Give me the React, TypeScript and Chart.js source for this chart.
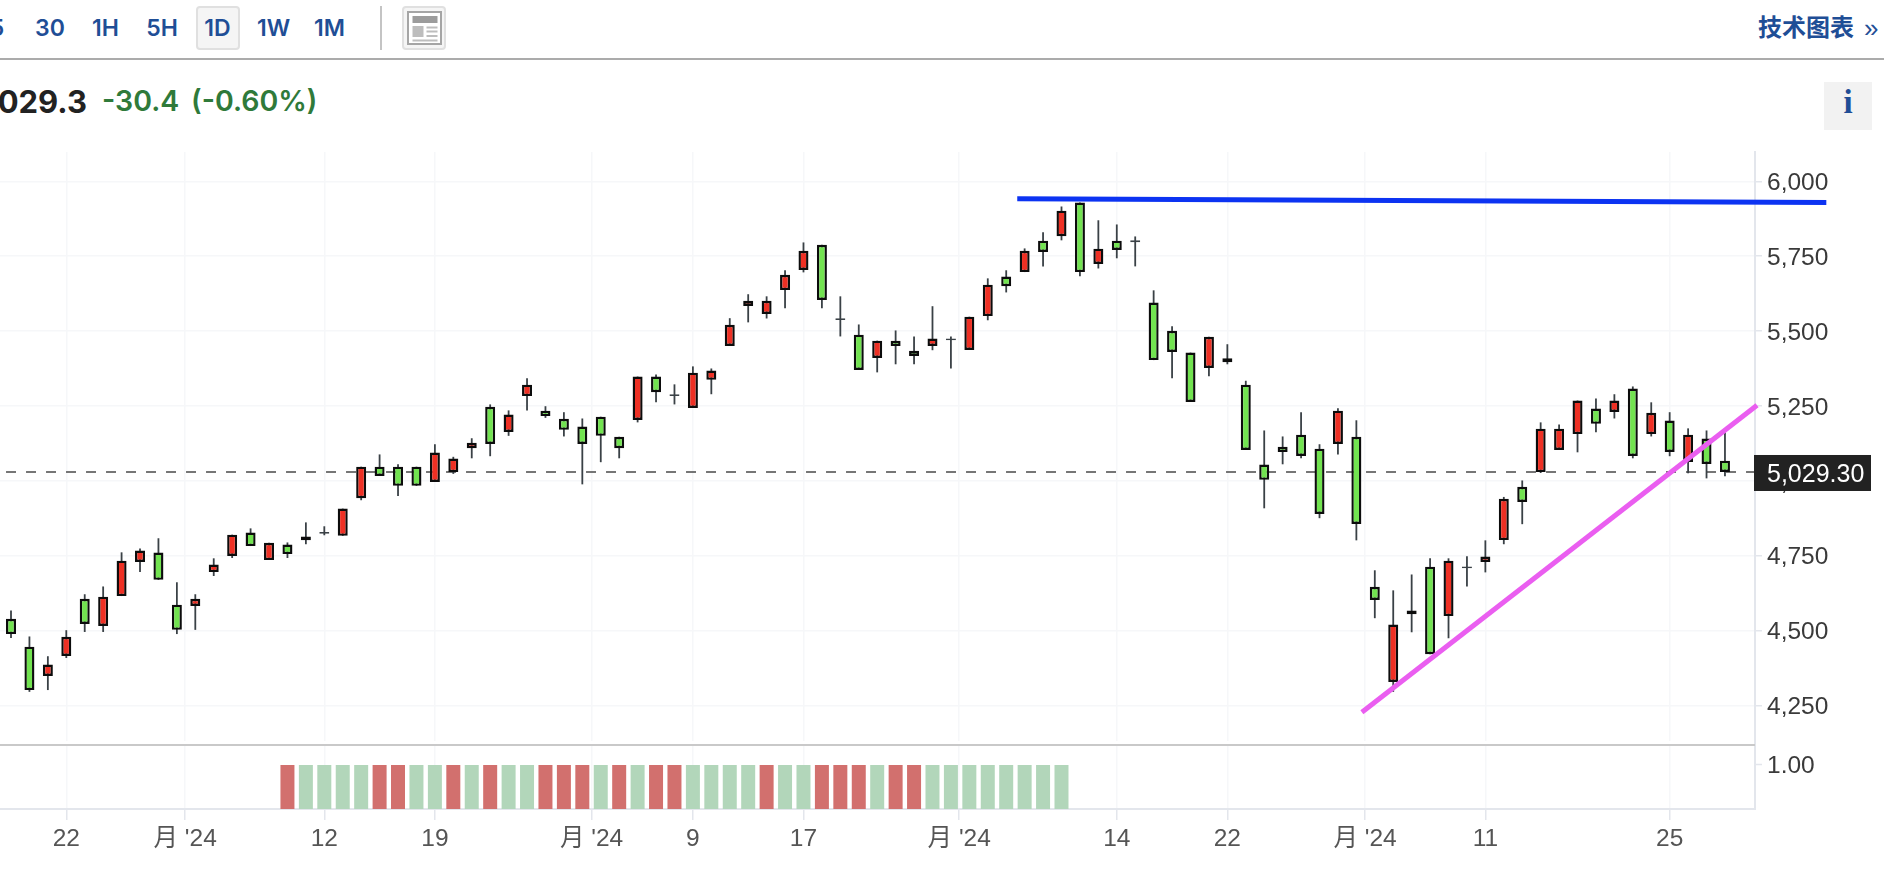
import React, { useEffect, useRef } from "react";
import { Chart, registerables } from "chart.js";

Chart.register(...registerables);

const opens = [4539,4446,4348,4415,4606,4515,4615,4729,4760,4586,4582,4695,4749,4827,4735,4787,4801,4829,4816,4942,5047,5047,5047,4996,5029,5109,5247,5163,5283,5234,5207,5181,5214,5147,5203,5348,5289,5243,5337,5450,5584,5557,5637,5704,5788,5543,5488,5410,5468,5434,5450,5475,5437,5550,5682,5697,5802,5817,5929,5724,5802,5803,5595,5501,5428,5377,5396,5321,5054,5114,5154,5107,5123,5147,4646,4328,4554,4713,4548,4714,4729,4802,4980,5029,5103,5156,5241,5230,5308,5156,5201,5063,5141,5067];
const closes = [4488,4301,4386,4479,4522,4613,4733,4767,4669,4502,4606,4720,4820,4782,4793,4755,4814,4823,4907,5047,5016,4983,4983,5094,5074,5127,5123,5221,5321,5216,5170,5123,5150,5109,5348,5296,5283,5361,5368,5521,5601,5601,5688,5768,5604,5537,5370,5468,5450,5417,5475,5469,5548,5655,5650,5768,5764,5902,5697,5775,5771,5797,5403,5430,5263,5481,5409,5103,5003,5096,5083,4889,5234,4856,4602,4520,4567,4421,4733,4708,4747,4940,4929,5174,5174,5268,5190,5268,5083,5227,5096,5154,5056,5029.3];
const highs = [4567,4480,4414,4501,4621,4647,4761,4774,4808,4661,4621,4741,4820,4841,4793,4794,4861,4848,4907,5047,5088,5055,5047,5122,5080,5142,5255,5235,5342,5249,5229,5208,5214,5147,5348,5355,5322,5382,5375,5543,5623,5616,5703,5796,5788,5616,5522,5468,5502,5482,5583,5482,5548,5676,5703,5776,5830,5916,5929,5870,5856,5816,5636,5516,5428,5481,5456,5334,5168,5148,5229,5122,5242,5202,4701,4634,4687,4741,4741,4748,4801,4946,5001,5195,5188,5268,5275,5289,5315,5262,5229,5175,5168,5162];
const lows = [4475,4295,4301,4408,4495,4495,4615,4695,4669,4488,4502,4682,4742,4782,4735,4742,4788,4818,4816,4935,5016,4949,4983,4996,5023,5075,5082,5150,5235,5210,5148,4988,5062,5075,5195,5262,5255,5243,5289,5450,5529,5542,5576,5696,5576,5482,5370,5362,5389,5389,5436,5375,5437,5536,5629,5697,5716,5803,5683,5709,5743,5716,5403,5342,5263,5349,5389,5103,4908,5055,5075,4875,5088,4801,4541,4295,4494,4421,4474,4647,4694,4788,4855,5026,5103,5095,5162,5208,5075,5148,5082,5025,5008,5015];

const signalStart = 15;
const signalValues = [1,1,1,1,1,1,1,1,1,1,1,1,1,1,1,1,1,1,1,1,1,1,1,1,1,1,1,1,1,1,1,1,1,1,1,1,1,1,1,1,1,1,1];
const signalKinds = "RGGGGRRGGRGRGGRRRGRGRRGGGGRGGRRRGRRGGGGGGGG".split("");

const xTickValues = [3, 9.45, 17, 23, 31.5, 37, 43, 51.45, 60, 66, 73.47, 80, 90];
const xTickLabels = ["22", "月 '24", "12", "19", "月 '24", "9", "17", "月 '24", "14", "22", "月 '24", "11", "25"];
const yTickValues = [4250, 4500, 4750, 5000, 5250, 5500, 5750, 6000];
const lastPrice = 5029.3;
const resistanceLine = [{ x: 54.6, y: 5942 }, { x: 98.5, y: 5929 }];
const supportLine = [{ x: 73.3, y: 4227 }, { x: 94.74, y: 5252 }];
const timeframes = [
  { t: "5", l: -12, w: 18 },
  { t: "30", l: 35, w: 30 },
  { t: "1H", l: 92, w: 27 },
  { t: "5H", l: 146, w: 32 },
  { t: "1D", l: 204, w: 27 },
  { t: "1W", l: 256, w: 35 },
  { t: "1M", l: 314, w: 31 },
];

const FONT = "'Liberation Sans','Noto Sans CJK SC',sans-serif";
const UI = "Inter,'Noto Sans CJK SC',sans-serif";
const BLUE = "#1f4e96";
const RED = "#ee3024";
const GREEN = "#72e350";
const GRID = "#f6f7f9";
const AXIS = "#e3e6ec";

const overlay = {
  id: "overlay",
  beforeDraw(chart: any) {
    // Digits of this font sit above the text middle: nudge the y labels onto their grid lines.
    for (const id of ["y", "yVol"]) {
      const s = chart.scales[id];
      const items = s.getLabelItems(chart.chartArea);
      if (!(s as any)._nudged) {
        items.forEach((it: any) => {
          it.textOffset += id === "y" ? 2 : 1;
        });
        (s as any)._nudged = true;
      }
    }
  },
  beforeDatasetsDraw(chart: any) {
    const { ctx, chartArea, scales } = chart;
    const y = scales.yVol.top;
    ctx.save();
    ctx.fillStyle = "#fff";
    ctx.fillRect(chartArea.left, y - 4, chartArea.right - chartArea.left - 1, 4);
    ctx.fillStyle = "#c9c9c9";
    ctx.fillRect(chartArea.left, y - 1, chartArea.right - chartArea.left, 2);
    ctx.restore();
  },
  afterDraw(chart: any) {
    const { ctx, chartArea, scales } = chart;
    const cy = scales.y.getPixelForValue(lastPrice);
    ctx.save();
    ctx.fillStyle = "#222222";
    ctx.fillRect(chartArea.right - 1, cy - 17, 117, 36);
    ctx.fillStyle = "#ffffff";
    ctx.font = `25px ${FONT}`;
    ctx.textAlign = "left";
    ctx.textBaseline = "middle";
    ctx.fillText(lastPrice.toLocaleString("en-US", { minimumFractionDigits: 2 }), chartArea.right + 12, cy + 3);
    ctx.restore();
  },
};

function Text({ children, style }: any) {
  return <div style={{ position: "absolute", whiteSpace: "nowrap", ...style }}>{children}</div>;
}

export default function App() {
  const ref = useRef<HTMLCanvasElement | null>(null);

  useEffect(() => {
    document.body.style.margin = "0";
    document.body.style.overflow = "hidden";
    const isSmall = (i: number) => Math.abs(opens[i] - closes[i]) <= 6;
    const chart = new Chart(ref.current as HTMLCanvasElement, {
      type: "bar",
      plugins: [overlay],
      data: {
        datasets: [
          {
            type: "line",
            data: resistanceLine,
            borderColor: "#0c33f2",
            borderWidth: 5,
            pointRadius: 0,
            clip: false,
            order: 0,
            yAxisID: "y",
          },
          {
            type: "line",
            data: supportLine,
            borderColor: "#ea5ef0",
            borderWidth: 5,
            pointRadius: 0,
            clip: false,
            order: 0,
            yAxisID: "y",
          },
          {
            data: opens.map((o, i) => ({ x: i, y: [o, closes[i]] })),
            backgroundColor: opens.map((o, i) => (closes[i] < o ? GREEN : RED)),
            borderColor: opens.map((_, i) => (isSmall(i) ? "#3a4146" : "#0c0c0c")),
            borderWidth: 2.4,
            borderSkipped: false,
            barThickness: 10,
            grouped: false,
            inflateAmount: 0,
            order: 1,
            yAxisID: "y",
          },
          {
            data: highs.map((h, i) => ({ x: i, y: [lows[i], h] })),
            backgroundColor: "#3a4146",
            borderWidth: 0,
            barThickness: 1.8,
            grouped: false,
            inflateAmount: 0,
            order: 2,
            yAxisID: "y",
          },
          {
            type: "line",
            data: [{ x: -0.27, y: lastPrice }, { x: 94.63, y: lastPrice }],
            borderColor: "#4a4a4a",
            borderWidth: 1.6,
            borderDash: [10, 10],
            pointRadius: 0,
            order: 3,
            yAxisID: "y",
          },
          {
            data: signalValues.map((v, i) => ({ x: signalStart + i, y: v })),
            backgroundColor: signalKinds.map((k) => (k === "R" ? "#d2706e" : "#b2d6ba")),
            borderWidth: 0,
            barThickness: 14,
            grouped: false,
            inflateAmount: 0,
            order: 4,
            yAxisID: "yVol",
          },
        ] as any,
      },
      options: {
        animation: false,
        responsive: false,
        devicePixelRatio: 1,
        layout: { padding: { top: 152, left: 0, right: 0, bottom: 0 } },
        plugins: { legend: { display: false }, tooltip: { enabled: false } },
        scales: {
          x: {
            type: "linear",
            offset: false,
            min: -0.597,
            max: 94.63,
            afterBuildTicks(s: any) {
              s.ticks = xTickValues.map((value) => ({ value }));
            },
            afterFit(s: any) {
              s.height = 73;
            },
            grid: { color: GRID, lineWidth: 1.5, offset: false, tickColor: AXIS, tickLength: 11, tickWidth: 1.5 },
            border: { color: AXIS, width: 2 },
            ticks: {
              autoSkip: false,
              maxRotation: 0,
              padding: 5,
              color: "#555",
              font: { family: FONT, size: 24.5 },
              callback: (_: any, i: number) => xTickLabels[i],
            },
          },
          y: {
            type: "linear",
            position: "right",
            stack: "panes",
            stackWeight: 593,
            min: 4117.5,
            max: 6098,
            afterBuildTicks(s: any) {
              s.ticks = yTickValues.map((value) => ({ value }));
            },
            afterFit(s: any) {
              s.width = 129;
            },
            grid: { color: GRID, lineWidth: 1.5, tickColor: AXIS, tickLength: 7, tickWidth: 1.5 },
            border: { color: AXIS, width: 2 },
            ticks: {
              padding: 5,
              color: "#3a3a3a",
              font: { family: FONT, size: 24.5 },
              callback: (v: any) => Number(v).toLocaleString("en-US"),
            },
          },
          yVol: {
            type: "linear",
            position: "right",
            stack: "panes",
            stackWeight: 64,
            min: 0,
            max: 1.4545,
            afterBuildTicks(s: any) {
              s.ticks = [{ value: 1 }];
            },
            afterFit(s: any) {
              s.width = 129;
            },
            grid: { drawOnChartArea: false, tickColor: AXIS, tickLength: 7, tickWidth: 1.5 },
            border: { color: AXIS, width: 2 },
            ticks: {
              padding: 5,
              color: "#3a3a3a",
              font: { family: FONT, size: 24.5 },
              callback: (v: any) => Number(v).toFixed(2),
            },
          },
        },
      } as any,
    });
    return () => chart.destroy();
  }, []);

  return (
    <div style={{ position: "relative", width: 1884, height: 882, overflow: "hidden", background: "#fff" }}>
      <div style={{ position: "absolute", left: 196, top: 6, width: 40, height: 40, border: "2px solid #e0e0e0", borderRadius: 4, background: "#f5f5f5" }} />
      {timeframes.map((b) => (
        <Text
          key={b.t}
          style={{ left: b.l, width: b.w, top: 14, lineHeight: "33px", textAlign: "center", color: BLUE, font: `600 23px ${UI}` }}
        >
          {b.t}
        </Text>
      ))}
      <div style={{ position: "absolute", left: 380, top: 6, width: 2, height: 44, background: "#c4c4c4" }} />
      <div style={{ position: "absolute", left: 402, top: 6, width: 40, height: 40, border: "2px solid #e0e0e0", borderRadius: 4, background: "#f5f5f5" }} />
      <svg style={{ position: "absolute", left: 407, top: 11 }} width="36" height="35">
        <rect x="1" y="1" width="33" height="32" fill="#fff" stroke="#a5a5a5" strokeWidth="2" />
        <rect x="5.5" y="5" width="25" height="7" fill="#9c9c9c" />
        <rect x="5.5" y="15" width="11" height="11" fill="#bdbdbd" />
        <rect x="19.5" y="15.5" width="11" height="2" fill="#bdbdbd" />
        <rect x="19.5" y="19.5" width="11" height="2" fill="#bdbdbd" />
        <rect x="19.5" y="24" width="11" height="2" fill="#bdbdbd" />
        <rect x="5.5" y="28.5" width="25" height="2" fill="#bdbdbd" />
      </svg>
      <Text style={{ right: 30, top: 8, lineHeight: "36px", color: BLUE, font: `700 24px 'Noto Sans CJK SC',sans-serif` }}>技术图表</Text>
      <Text style={{ left: 1864, top: 13, lineHeight: "36px", color: BLUE, font: `400 26px ${FONT}` }}>»</Text>
      <div style={{ position: "absolute", left: 0, top: 58, width: 1884, height: 2, background: "#ababab" }} />

      <Text style={{ right: 1797, top: 83, lineHeight: "40px", color: "#222", font: `700 31px ${UI}` }}>5,029.3</Text>
      <Text style={{ left: 102, top: 83, lineHeight: "40px", color: "#2f7a3a", font: `600 28.5px ${UI}` }}>-30.4</Text>
      <Text style={{ left: 191, top: 83, lineHeight: "40px", color: "#2f7a3a", font: `600 28.5px ${UI}` }}>(-0.60%)</Text>
      <div style={{ position: "absolute", left: 1824, top: 82, width: 48, height: 48, background: "#f2f2f2" }} />
      <Text style={{ left: 1824, width: 48, top: 84, lineHeight: "44px", textAlign: "center", color: BLUE, font: `700 33px 'Liberation Serif',serif` }}>i</Text>

      <canvas ref={ref} width={1884} height={882} style={{ position: "absolute", left: 0, top: 0, display: "block" }} />
    </div>
  );
}
